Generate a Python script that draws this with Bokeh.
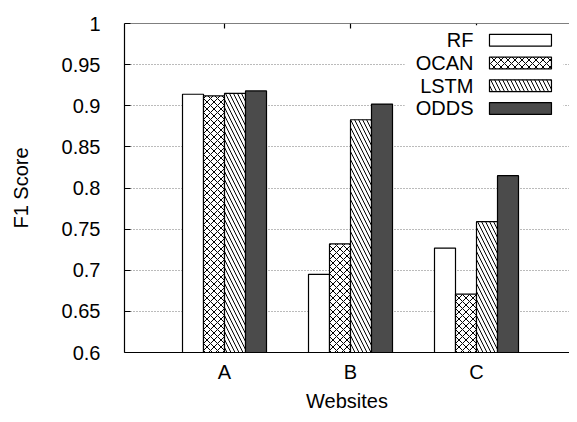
from bokeh.plotting import figure
from bokeh.models import FixedTicker, Span, Range1d
from bokeh.embed import file_html
from bokeh.resources import INLINE
from bokeh.core.properties import value

# ---- data ----
websites = ["A", "B", "C"]
methods = ["RF", "OCAN", "LSTM", "ODDS"]
rf = [0.914, 0.695, 0.727]
ocan = [0.912, 0.732, 0.671]
lstm = [0.915, 0.883, 0.759]
odds = [0.918, 0.902, 0.815]
y_ticks = [0.6, 0.65, 0.7, 0.75, 0.8, 0.85, 0.9, 0.95, 1.0]
y_tick_labels = ["0.6", "0.65", "0.7", "0.75", "0.8", "0.85", "0.9", "0.95", "1"]

FONT = "Liberation Sans"
FS = "20px"
series = [rf, ocan, lstm, odds]
styles = [
    dict(fill_color="white", hatch_pattern=None),
    dict(fill_color="white", hatch_pattern="x", hatch_scale=7.0),
    dict(fill_color="white", hatch_pattern="\\", hatch_scale=8.0),
    dict(fill_color="#4b4b4b", hatch_pattern=None),
]

p = figure(width=569, height=414, output_backend="svg", toolbar_location=None,
           x_range=Range1d(0.2063, 3.7381), y_range=Range1d(0.6, 1.0),
           min_border_left=124, min_border_right=0, min_border_top=23,
           min_border_bottom=61)
p.outline_line_color = None
p.background_fill_color = "white"
p.border_fill_color = "white"

xpos = list(range(1, len(websites) + 1))
bw = 1.0 / 6.0
offsets = [-1.5 * bw, -0.5 * bw, 0.5 * bw, 1.5 * bw]

for vals, off, st in zip(series, offsets, styles):
    kw = dict(x=[x + off for x in xpos], top=vals, bottom=0.6, width=bw,
              line_color="black", line_width=1.2, fill_color=st["fill_color"])
    if st["hatch_pattern"]:
        kw.update(hatch_pattern=st["hatch_pattern"], hatch_scale=st["hatch_scale"],
                  hatch_color="black", hatch_weight=1.0)
    p.vbar(**kw)

# top border with mirrored x ticks
p.add_layout(Span(location=1.0, dimension="width", line_color="black", line_width=1.2))
p.segment(x0=xpos, y0=[1.0] * len(xpos), x1=xpos, y1=[0.994] * len(xpos),
          line_color="black", line_width=1.2)

# legend (custom: text right-aligned, sample box on the right)
p.quad(left=2.43, right=3.69, bottom=0.887, top=0.998, fill_color="white", line_color=None)
leg_y = [0.9796, 0.952, 0.9243, 0.8967]
for name, yy, st in zip(methods, leg_y, styles):
    p.text(x=[2.976], y=[yy], text=[name], text_align="right", text_baseline="middle",
           text_font=value(FONT), text_font_size=FS, text_color="black")
    kw = dict(x=[3.349], y=[yy], width=0.492, height=0.0144,
              line_color="black", line_width=1.2, fill_color=st["fill_color"])
    if st["hatch_pattern"]:
        kw.update(hatch_pattern=st["hatch_pattern"], hatch_scale=st["hatch_scale"],
                  hatch_color="black", hatch_weight=1.0)
    p.rect(**kw)

# grid
p.xgrid.visible = False
p.ygrid.ticker = FixedTicker(ticks=y_ticks)
p.ygrid.grid_line_color = "#777777"
p.ygrid.grid_line_dash = "1 2"
p.ygrid.grid_line_width = 1
p.ygrid.level = "underlay"

# axes
p.yaxis.ticker = FixedTicker(ticks=y_ticks)
p.yaxis.major_label_overrides = {t: l for t, l in zip(y_ticks, y_tick_labels)}
p.xaxis.ticker = FixedTicker(ticks=xpos)
p.xaxis.major_label_overrides = {x: w for x, w in zip(xpos, websites)}
for ax in (p.xaxis, p.yaxis):
    ax.axis_line_color = "black"
    ax.axis_line_width = 1.2
    ax.major_tick_line_color = "black"
    ax.minor_tick_line_color = None
    ax.major_tick_out = 0
    ax.major_label_text_font = FONT
    ax.major_label_text_font_size = FS
    ax.major_label_text_color = "black"
    ax.axis_label_text_font = FONT
    ax.axis_label_text_font_size = FS
    ax.axis_label_text_font_style = "normal"
    ax.axis_label_text_color = "black"
p.yaxis.major_tick_in = 6
p.xaxis.major_tick_in = 0
p.yaxis.major_label_standoff = 24
p.xaxis.major_label_standoff = 8
p.yaxis.axis_label = "F1 Score"
p.xaxis.axis_label = "Websites"
p.yaxis.axis_label_standoff = 27
p.xaxis.axis_label_standoff = 4

open("out.html", "w").write(file_html(p, INLINE))
